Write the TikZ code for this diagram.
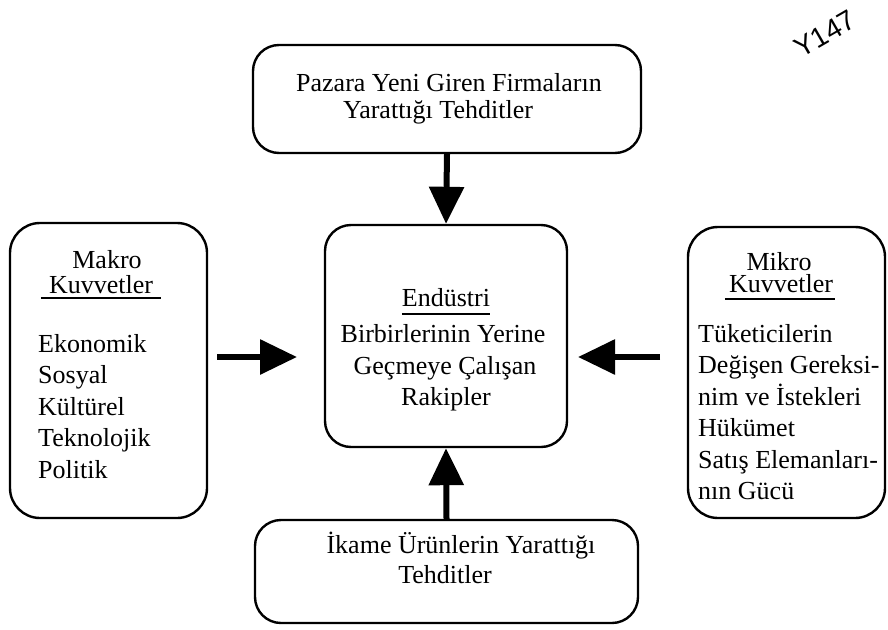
\documentclass[tikz,border=0pt]{standalone}
\usepackage{fontspec}
\setmainfont{Liberation Serif}
\newfontfamily\handfont{Liberation Sans}
\usetikzlibrary{arrows.meta}
\begin{document}
\begin{tikzpicture}[x=1pt,y=-1pt,
  box/.style={draw, line width=2.4pt, rounded corners=26pt, inner sep=0pt},
  txt/.style={font=\fontsize{26}{30}\selectfont, inner sep=0pt},
  uline/.style={line width=1.6pt},
  force/.style={line width=6pt, -{Triangle[width=34pt,length=37pt]}},
]
\useasboundingbox (0,0) rectangle (888,629);

% the five boxes
\node[box, minimum width=388pt, minimum height=108pt] (top) at (447,99) {};
\node[box, minimum width=242pt, minimum height=222pt] (mid) at (446,336) {};
\node[box, minimum width=383pt, minimum height=103pt] (bot) at (446.5,571.5) {};
\node[box, minimum width=197pt, minimum height=295pt, rounded corners=30pt] (makro) at (108.5,370.5) {};
\node[box, minimum width=197pt, minimum height=291pt, rounded corners=30pt] (mikro) at (786.5,372.5) {};

% top box text
\node[txt, anchor=base] (t1) at (449,91) {Pazara Yeni Giren Firmaların};
\node[txt, anchor=base] (t2) at (438,118) {Yarattığı Tehditler};

% centre box text
\node[txt, anchor=base] (e0) at (446,306) {Endüstri};
\draw[uline] ([yshift=-8pt]e0.base west) -- ([yshift=-8pt]e0.base east);
\node[txt, anchor=base] (e1) at (443,342) {Birbirlerinin Yerine};
\node[txt, anchor=base] (e2) at (445,374) {Geçmeye Çalışan};
\node[txt, anchor=base] (e3) at (446,405) {Rakipler};

% bottom box text
\node[txt, anchor=base] (b1) at (461,553) {İkame Ürünlerin Yarattığı};
\node[txt, anchor=base] (b2) at (445,583) {Tehditler};

% macro forces
\node[txt, anchor=base] (m0) at (107,268) {Makro};
\node[txt, anchor=base] (m00) at (101,293) {Kuvvetler};
\draw[uline] ([xshift=-8pt,yshift=-5pt]m00.base west) -- ([xshift=8pt,yshift=-5pt]m00.base east);
\node[txt, anchor=base west] (m1) at (38,352) {Ekonomik};
\node[txt, anchor=base west] (m2) at (38,383.5) {Sosyal};
\node[txt, anchor=base west] (m3) at (38,415) {Kültürel};
\node[txt, anchor=base west] (m4) at (38,446.5) {Teknolojik};
\node[txt, anchor=base west] (m5) at (38,478) {Politik};

% micro forces
\node[txt, anchor=base] (k0) at (779,270) {Mikro};
\node[txt, anchor=base] (k00) at (781,292) {Kuvvetler};
\draw[uline] ([xshift=-4pt,yshift=-7pt]k00.base west) -- ([xshift=2pt,yshift=-7pt]k00.base east);
\node[txt, anchor=base west] (k1) at (698,342) {Tüketicilerin};
\node[txt, anchor=base west] (k2) at (698,373.5) {Değişen Gereksi-};
\node[txt, anchor=base west] (k3) at (698,405) {nim ve İstekleri};
\node[txt, anchor=base west] (k4) at (698,436.5) {Hükümet};
\node[txt, anchor=base west] (k5) at (698,468) {Satış Elemanları-};
\node[txt, anchor=base west] (k6) at (698,499.5) {nın Gücü};

% arrows towards the industry box
\coordinate (la) at (217,357);
\coordinate (lb) at (297,357);
\coordinate (ra) at (660,357);
\coordinate (rb) at (578,357);
\draw[force] (top.south) -- (mid.north);
\draw[force] (bot.north) -- (mid.south);
\draw[force] (la) -- (lb);
\draw[force] (ra) -- (rb);

% handwritten page mark
\node[font=\handfont\fontsize{28}{28}\selectfont, rotate=30, inner sep=0pt] (mark) at (825,34) {Y147};
\end{tikzpicture}
\end{document}
